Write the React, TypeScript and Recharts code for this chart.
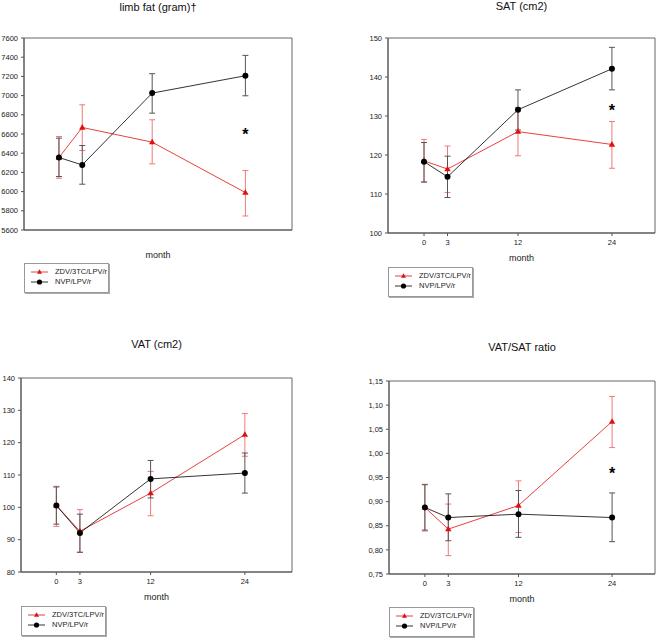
import {
  ComposedChart,
  Line,
  ErrorBar,
  XAxis,
  YAxis,
  ReferenceArea,
  ReferenceDot,
  Label,
} from "recharts";

const months = [0, 3, 12, 24];
const seriesNames = ["ZDV/3TC/LPV/r", "NVP/LPV/r"];

// limb fat (gram)
const limbZdv = [6355, 6668, 6515, 5990];
const limbZdvLow = [6139, 6428, 6289, 5746];
const limbZdvHigh = [6574, 6904, 6748, 6219];
const limbNvp = [6355, 6278, 7026, 7207];
const limbNvpLow = [6157, 6077, 6817, 6998];
const limbNvpHigh = [6557, 6480, 7228, 7419];
const limbTicks = [5600, 5800, 6000, 6200, 6400, 6600, 6800, 7000, 7200, 7400, 7600];
const limbStar = 6626;

// SAT (cm2)
const satZdv = [118.5, 116.4, 126.0, 122.7];
const satZdvLow = [113.0, 110.4, 119.8, 116.6];
const satZdvHigh = [124.0, 122.3, 132.2, 128.6];
const satNvp = [118.3, 114.4, 131.6, 142.1];
const satNvpLow = [113.1, 109.1, 126.4, 136.7];
const satNvpHigh = [123.2, 119.7, 136.7, 147.6];
const satTicks = [100, 110, 120, 130, 140, 150];
const satStar = 132.2;

// VAT (cm2)
const vatZdv = [100.6, 92.6, 104.4, 122.5];
const vatZdvLow = [94.1, 86.1, 97.4, 115.8];
const vatZdvHigh = [106.5, 99.3, 111.1, 129.0];
const vatNvp = [100.6, 92.1, 108.8, 110.6];
const vatNvpLow = [94.8, 86.1, 102.9, 104.4];
const vatNvpHigh = [106.3, 97.9, 114.5, 116.8];
const vatTicks = [80, 90, 100, 110, 120, 130, 140];

// VAT/SAT ratio
const ratioZdv = [0.888, 0.843, 0.892, 1.066];
const ratioZdvLow = [0.839, 0.788, 0.836, 1.012];
const ratioZdvHigh = [0.936, 0.895, 0.943, 1.118];
const ratioNvp = [0.888, 0.867, 0.874, 0.867];
const ratioNvpLow = [0.841, 0.819, 0.826, 0.817];
const ratioNvpHigh = [0.935, 0.916, 0.923, 0.918];
const ratioTicks = [0.75, 0.8, 0.85, 0.9, 0.95, 1.0, 1.05, 1.1, 1.15];
const ratioStar = 0.964;

const RED = "#e01010";
const RED_ERR = "#ee7a7a";
const BLACK = "#000";
const BLACK_ERR = "#555";
const FONT = "'Liberation Sans', Arial, sans-serif";

function buildRows(
  zdv: number[], zLow: number[], zHigh: number[],
  nvp: number[], nLow: number[], nHigh: number[]
) {
  return months.map((m, i) => ({
    month: m,
    zdv: zdv[i],
    zdvErr: [zdv[i] - zLow[i], zHigh[i] - zdv[i]],
    nvp: nvp[i],
    nvpErr: [nvp[i] - nLow[i], nHigh[i] - nvp[i]],
  }));
}

const Triangle = (props: any) => {
  const { cx, cy } = props;
  if (cx == null || cy == null) return null;
  return (
    <polygon
      points={`${cx},${cy - 3.4} ${cx - 3.2},${cy + 2.2} ${cx + 3.2},${cy + 2.2}`}
      fill={RED}
      stroke="none"
    />
  );
};

const Circle = (props: any) => {
  const { cx, cy } = props;
  if (cx == null || cy == null) return null;
  return <circle cx={cx} cy={cy} r={3} fill={BLACK} />;
};

function LegendBox({ left, top }: { left: number; top: number }) {
  return (
    <div
      style={{
        position: "absolute",
        left,
        top,
        width: 83,
        height: 28,
        border: "1px solid #999",
        boxShadow: "1px 1px 0 #aaa",
        background: "#fff",
        fontFamily: FONT,
        fontSize: 7.5,
        color: "#222",
      }}
    >
      {seriesNames.map((name, i) => (
        <div
          key={name}
          style={{ position: "absolute", left: 0, top: 3 + i * 10, height: 10, width: 83 }}
        >
          <svg width={26} height={10} style={{ position: "absolute", left: 4, top: 0 }}>
            <line x1={2} y1={5} x2={19} y2={5} stroke={i === 0 ? RED : BLACK} strokeWidth={0.8} />
            {i === 0 ? (
              <polygon points="10.5,2.3 8,6.8 13,6.8" fill={RED} />
            ) : (
              <circle cx={10.5} cy={5} r={2.6} fill={BLACK} />
            )}
          </svg>
          <span style={{ position: "absolute", left: 30, top: 0, lineHeight: "10px" }}>{name}</span>
        </div>
      ))}
    </div>
  );
}

interface PanelProps {
  left: number;
  top: number;
  width: number;
  title: string;
  titleY: number;
  box: { l: number; t: number; r: number; b: number };
  xDomain: [number, number];
  showXTicks: boolean;
  yTicks: number[];
  yFormat?: (v: number) => string;
  rows: any[];
  star?: number;
  legendTop: number;
}

function Panel(p: PanelProps) {
  const H = 318;
  const xAxisH = 20;
  const yMin = p.yTicks[0];
  const yMax = p.yTicks[p.yTicks.length - 1];
  return (
    <div style={{ position: "absolute", left: p.left, top: p.top, width: p.width, height: H }}>
      <div
        style={{
          position: "absolute",
          left: 0,
          width: (p.box.l + p.box.r) ,
          top: p.titleY - 7,
          textAlign: "center",
          fontFamily: FONT,
          fontSize: 11,
          color: "#111",
        }}
      >
        {p.title}
      </div>
      <ComposedChart
        width={p.width}
        height={H}
        data={p.rows}
        margin={{ top: p.box.t, left: 0, right: p.width - p.box.r, bottom: H - p.box.b - xAxisH }}
        style={{ position: "absolute", left: 0, top: 0 }}
      >
        <XAxis
          dataKey="month"
          type="number"
          domain={p.xDomain}
          allowDataOverflow
          ticks={months}
          height={xAxisH}
          tick={p.showXTicks ? { fontSize: 7.5, fill: "#222", fontFamily: FONT } : false}
          tickLine={p.showXTicks ? { stroke: "#555" } : false}
          tickSize={3}
          tickMargin={4}
          axisLine={{ stroke: "#555" }}
        >
          <Label
            value="month"
            position="bottom"
            offset={2}
            style={{ fontSize: 9, fill: "#222", fontFamily: FONT }}
          />
        </XAxis>
        <YAxis
          type="number"
          domain={[yMin, yMax]}
          ticks={p.yTicks}
          width={p.box.l}
          tick={{ fontSize: 7.5, fill: "#222", fontFamily: FONT }}
          tickFormatter={p.yFormat}
          tickLine={{ stroke: "#555" }}
          tickSize={3}
          tickMargin={3}
          axisLine={{ stroke: "#555" }}
          interval={0}
        />
        <ReferenceArea
          x1={p.xDomain[0]}
          x2={p.xDomain[1]}
          y1={yMin}
          y2={yMax}
          fill="none"
          stroke="#666"
          strokeWidth={1}
          ifOverflow="visible"
        />
        <Line
          dataKey="zdv"
          stroke={RED}
          strokeWidth={0.8}
          dot={<Triangle />}
          activeDot={false}
          isAnimationActive={false}
        >
          <ErrorBar dataKey="zdvErr" direction="y" width={3} stroke={RED_ERR} strokeWidth={1} />
        </Line>
        <Line
          dataKey="nvp"
          stroke={BLACK}
          strokeWidth={0.8}
          dot={<Circle />}
          activeDot={false}
          isAnimationActive={false}
        >
          <ErrorBar dataKey="nvpErr" direction="y" width={3} stroke={BLACK_ERR} strokeWidth={1} />
        </Line>
        {p.star != null && (
          <ReferenceDot
            x={24}
            y={p.star}
            r={0}
            stroke="none"
            label={{ value: "*", position: "center", dy: 3, fontSize: 16, fontWeight: "bold", fill: "#000", fontFamily: FONT }}
          />
        )}
      </ComposedChart>
      <LegendBox left={p.box.l} top={p.legendTop} />
    </div>
  );
}

const commaFmt = (v: number) => v.toFixed(2).replace(".", ",");

export default function App() {
  return (
    <div style={{ position: "absolute", left: 0, top: 0, width: 661, height: 638, background: "#fff" }}>
      <Panel
        left={0}
        top={0}
        width={330}
        title="limb fat (gram)†"
        titleY={8}
        box={{ l: 24, t: 38, r: 292, b: 230 }}
        xDomain={[-4.5, 30]}
        showXTicks={false}
        yTicks={limbTicks}
        rows={buildRows(limbZdv, limbZdvLow, limbZdvHigh, limbNvp, limbNvpLow, limbNvpHigh)}
        star={limbStar}
        legendTop={263}
      />
      <Panel
        left={330}
        top={0}
        width={331}
        title="SAT (cm2)"
        titleY={7}
        box={{ l: 58, t: 38, r: 325, b: 233 }}
        xDomain={[-4.6, 29.5]}
        showXTicks={true}
        yTicks={satTicks}
        rows={buildRows(satZdv, satZdvLow, satZdvHigh, satNvp, satNvpLow, satNvpHigh)}
        star={satStar}
        legendTop={267}
      />
      <Panel
        left={0}
        top={320}
        width={330}
        title="VAT (cm2)"
        titleY={25}
        box={{ l: 21, t: 58, r: 292, b: 252 }}
        xDomain={[-4.5, 30]}
        showXTicks={true}
        yTicks={vatTicks}
        rows={buildRows(vatZdv, vatZdvLow, vatZdvHigh, vatNvp, vatNvpLow, vatNvpHigh)}
        legendTop={286}
      />
      <Panel
        left={330}
        top={320}
        width={331}
        title="VAT/SAT ratio"
        titleY={28}
        box={{ l: 59, t: 61, r: 325, b: 254 }}
        xDomain={[-4.6, 29.5]}
        showXTicks={true}
        yTicks={ratioTicks}
        yFormat={commaFmt}
        rows={buildRows(ratioZdv, ratioZdvLow, ratioZdvHigh, ratioNvp, ratioNvpLow, ratioNvpHigh)}
        star={ratioStar}
        legendTop={287}
      />
    </div>
  );
}
